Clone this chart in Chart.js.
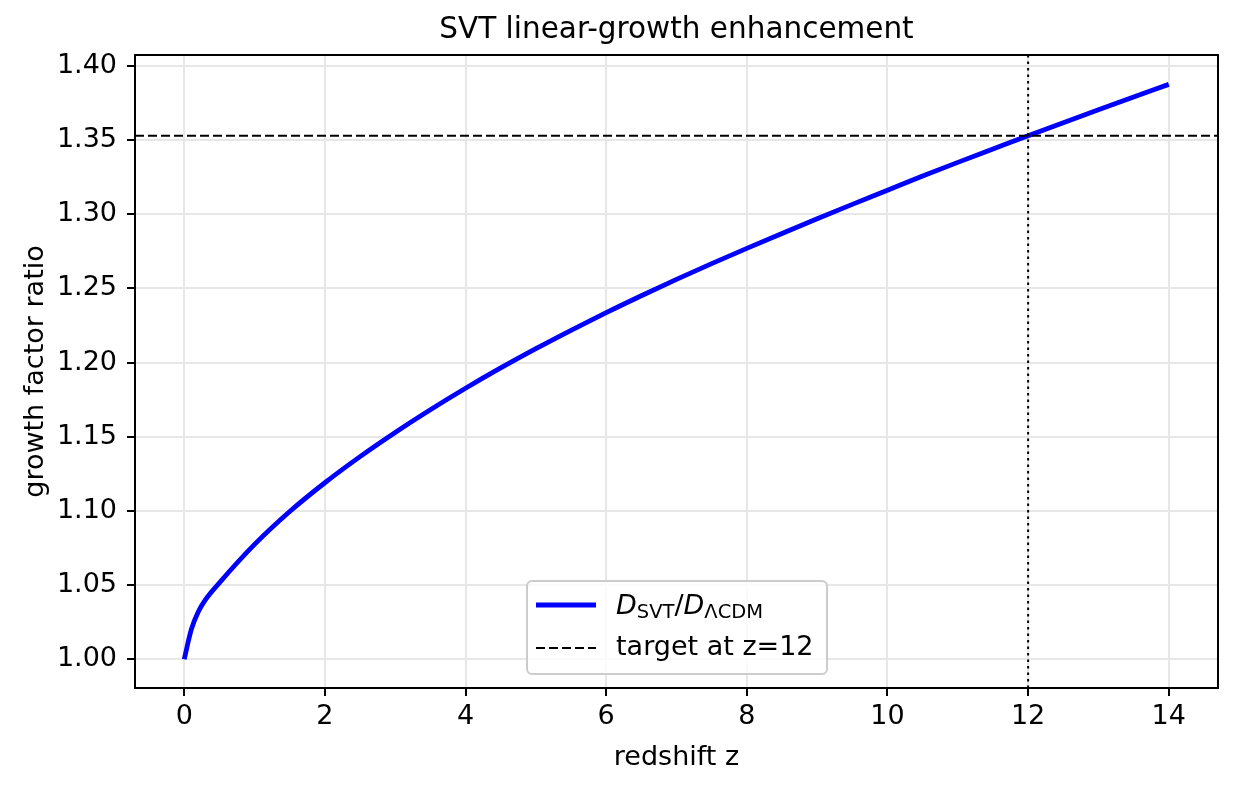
<!DOCTYPE html>
<html>
<head>
<meta charset="utf-8">
<title>SVT linear-growth enhancement</title>
<script src="https://cdn.jsdelivr.net/npm/chart.js@4.4.1/dist/chart.umd.min.js"></script>
<style>
  html, body { margin: 0; padding: 0; background: #fff; }
  #wrap { width: 1237px; height: 789px; }
</style>
</head>
<body>
<div id="wrap"><canvas id="myChart" width="1237" height="789"></canvas></div>
<script>
'use strict';

// values
let redshift = [0, 0.1, 0.2, 0.3, 0.5, 1, 1.5, 2, 2.5, 3, 3.5, 4, 4.5, 5, 5.5, 6, 6.5, 7,
  7.5, 8, 8.5, 9, 9.5, 10, 10.5, 11, 11.5, 12, 12.5, 13, 13.5, 14];
let growthRatio = [1.000, 1.020, 1.032, 1.040, 1.0515, 1.0774, 1.0996, 1.119, 1.1366, 1.1529,
  1.1682, 1.1827, 1.1964, 1.2094, 1.2218, 1.2337, 1.2451, 1.2561, 1.2667, 1.2770, 1.2871,
  1.2970, 1.3067, 1.3162, 1.3258, 1.3350, 1.3440, 1.3530, 1.3618, 1.3705, 1.3791, 1.3876];
let xTicks = [0, 2, 4, 6, 8, 10, 12, 14];
let yTicks = [1.00, 1.05, 1.10, 1.15, 1.20, 1.25, 1.30, 1.35, 1.40];
let targetZ = 12;
let targetRatio = 1.353;

let FONT = 'DejaVu Sans';

let overlay = {
    id: 'overlay',
    afterDatasetsDraw(chart) {
        let ctx = chart.ctx;
        let a = chart.chartArea;
        let xs = chart.scales.x, ys = chart.scales.y;

        ctx.save();
        ctx.beginPath();
        ctx.rect(a.left, a.top, a.right - a.left, a.bottom - a.top);
        ctx.clip();
        // target horizontal (dashed)
        let ty = ys.getPixelForValue(targetRatio);
        ctx.strokeStyle = '#000';
        ctx.lineWidth = 2;
        ctx.setLineDash([9, 4]);
        ctx.beginPath();
        ctx.moveTo(a.left, ty);
        ctx.lineTo(a.right, ty);
        ctx.stroke();
        // z=12 vertical (dotted)
        let tx = xs.getPixelForValue(targetZ);
        ctx.setLineDash([2.5, 4]);
        ctx.beginPath();
        ctx.moveTo(tx, a.top);
        ctx.lineTo(tx, a.bottom);
        ctx.stroke();
        ctx.restore();
    },
    afterDraw(chart) {
        let ctx = chart.ctx;
        let a = chart.chartArea;
        ctx.save();
        // frame
        ctx.strokeStyle = '#000';
        ctx.lineWidth = 2;
        ctx.strokeRect(a.left, a.top, a.right - a.left, a.bottom - a.top);

        // title + axis titles
        ctx.fillStyle = '#000';
        ctx.textAlign = 'center';
        ctx.textBaseline = 'alphabetic';
        ctx.font = '29.5px ' + FONT;
        ctx.fillText('SVT linear-growth enhancement', (a.left + a.right) / 2, 38);
        ctx.font = '27px ' + FONT;
        ctx.fillText('redshift z', (a.left + a.right) / 2, 765);
        ctx.save();
        ctx.translate(43, (a.top + a.bottom) / 2);
        ctx.rotate(-Math.PI / 2);
        ctx.fillText('growth factor ratio', 0, 0);
        ctx.restore();

        // legend
        let lx = 527, ly = 581, lw = 300, lh = 93;
        ctx.fillStyle = 'rgba(255,255,255,0.8)';
        ctx.strokeStyle = '#cccccc';
        ctx.lineWidth = 2;
        ctx.beginPath();
        ctx.roundRect(lx, ly, lw, lh, 5);
        ctx.fill();
        ctx.stroke();

        ctx.strokeStyle = '#0000ff';
        ctx.lineWidth = 4.8;
        ctx.beginPath();
        ctx.moveTo(536, 605);
        ctx.lineTo(596, 605);
        ctx.stroke();
        ctx.strokeStyle = '#000';
        ctx.lineWidth = 2;
        ctx.setLineDash([9, 4]);
        ctx.beginPath();
        ctx.moveTo(536, 648);
        ctx.lineTo(596, 648);
        ctx.stroke();
        ctx.setLineDash([]);

        ctx.fillStyle = '#000';
        ctx.textAlign = 'left';
        let x = 616, base = 614;
        let parts = [
            ['italic 27px ' + FONT, 'D', 0],
            ['19.5px ' + FONT, 'SVT', 4],
            ['27px ' + FONT, '/', 0],
            ['italic 27px ' + FONT, 'D', 0],
            ['19.5px ' + FONT, '\u039BCDM', 4]
        ];
        parts.forEach(function (p) {
            ctx.font = p[0];
            ctx.fillText(p[1], x, base + p[2]);
            x += ctx.measureText(p[1]).width;
        });
        ctx.font = '27px ' + FONT;
        ctx.fillText('target at z=12', 616, 655);
        ctx.restore();
    }
};

let ctx = document.getElementById('myChart').getContext('2d');

let myChart = new Chart(ctx, {
    type: 'line',
    data: {
        datasets: [{
            label: 'D_SVT/D_LCDM',
            data: redshift.map(function (z, i) { return { x: z, y: growthRatio[i] }; }),
            borderColor: '#0000ff',
            borderWidth: 4.8,
            pointRadius: 0,
            fill: false,
            cubicInterpolationMode: 'monotone'
        }]
    },
    options: {
        responsive: false,
        animation: false,
        devicePixelRatio: 1,
        layout: { padding: { left: 0, top: 55, right: 19, bottom: 0 } },
        plugins: {
            legend: { display: false },
            title: { display: false },
            tooltip: { enabled: false }
        },
        scales: {
            x: {
                type: 'linear',
                min: -0.7,
                max: 14.7,
                afterBuildTicks: function (scale) {
                    scale.ticks = xTicks.map(function (v) { return { value: v }; });
                },
                afterFit: function (scale) { scale.height = 101; },
                grid: {
                    color: '#e7e7e7',
                    lineWidth: 2,
                    tickColor: '#000',
                    tickLength: 8,
                    tickWidth: 2
                },
                border: { display: false },
                ticks: {
                    color: '#000',
                    font: { family: FONT, size: 27 },
                    padding: 5,
                    maxRotation: 0,
                    callback: function (v) { return String(v); }
                }
            },
            y: {
                type: 'linear',
                min: 0.9806,
                max: 1.4074,
                afterBuildTicks: function (scale) {
                    scale.ticks = yTicks.map(function (v) { return { value: v }; });
                },
                afterFit: function (scale) { scale.width = 135; },
                grid: {
                    color: '#e7e7e7',
                    lineWidth: 2,
                    tickColor: '#000',
                    tickLength: 8,
                    tickWidth: 2
                },
                border: { display: false },
                ticks: {
                    color: '#000',
                    font: { family: FONT, size: 27 },
                    padding: 10,
                    callback: function (v) { return Number(v).toFixed(2); }
                }
            }
        }
    },
    plugins: [overlay]
});
</script>
</body>
</html>
